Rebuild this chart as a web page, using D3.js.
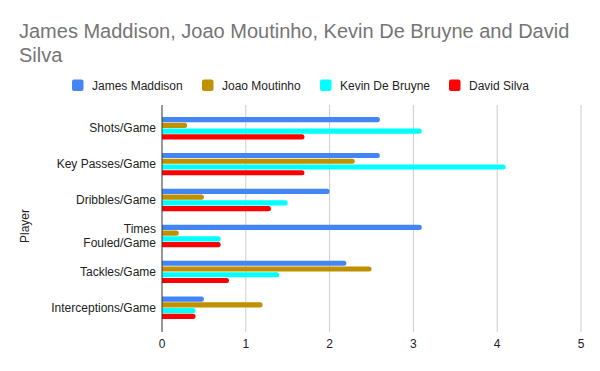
<!DOCTYPE html>
<html>
<head>
<meta charset="utf-8">
<script src="https://cdn.jsdelivr.net/npm/d3@7"></script>
<style>
  body { margin: 0; background: #fff; }
  svg { font-family: "Liberation Sans", Arial, sans-serif; }
</style>
</head>
<body>
<svg id="chart" width="600" height="371"></svg>
<script>
// data
var categories = ["Shots/Game", "Key Passes/Game", "Dribbles/Game", "Times Fouled/Game", "Tackles/Game", "Interceptions/Game"];
var players = ["James Maddison", "Joao Moutinho", "Kevin De Bruyne", "David Silva"];
var colors = ["#4285f4", "#bf9000", "#00ffff", "#ff0000"];
var maddison = [2.6, 2.6, 2.0, 3.1, 2.2, 0.5];
var moutinho = [0.3, 2.3, 0.5, 0.2, 2.5, 1.2];
var debruyne = [3.1, 4.1, 1.5, 0.7, 1.4, 0.4];
var silva = [1.7, 1.7, 1.3, 0.7, 0.8, 0.4];
var xTicks = [0, 1, 2, 3, 4, 5];

var series = [maddison, moutinho, debruyne, silva];

var svg = d3.select("#chart");
var plot = {left: 162, right: 581, top: 105, bottom: 332};

// title
var title = svg.append("text").attr("fill", "#757575").attr("font-size", "20px");
title.append("tspan").attr("x", 19).attr("y", 38).text("James Maddison, Joao Moutinho, Kevin De Bruyne and David");
title.append("tspan").attr("x", 19).attr("y", 62).text("Silva");

// legend
var legendX = [72, 202, 320, 449];
var legend = svg.append("g").selectAll("g").data(players).enter()
  .append("g").attr("transform", (d, i) => "translate(" + legendX[i] + ",79.5)");
legend.append("rect").attr("width", 11.5).attr("height", 11.5).attr("rx", 2)
  .attr("fill", (d, i) => colors[i]);
legend.append("text").attr("x", 20).attr("y", 10.5).attr("font-size", "12px").attr("fill", "#222")
  .text(d => d);

var x = d3.scaleLinear().domain([0, 5]).range([plot.left, plot.right]);
var y0 = d3.scaleBand().domain(categories).range([110.3, 325.7]);
var groupH = 23;
var y1 = d3.scaleBand().domain(d3.range(players.length)).range([0, groupH]);

// gridlines
svg.append("g").selectAll("line").data(xTicks.slice(1)).enter()
  .append("line")
  .attr("x1", d => x(d)).attr("x2", d => x(d))
  .attr("y1", plot.top).attr("y2", plot.bottom)
  .attr("stroke", "#cccccc").attr("stroke-width", 1);

// x tick labels
svg.append("g").selectAll("text").data(xTicks).enter()
  .append("text")
  .attr("x", d => x(d)).attr("y", 348)
  .attr("text-anchor", "middle").attr("font-size", "12px").attr("fill", "#222")
  .text(d => d);

// bars with rounded right end
function barPath(x0, x1, yTop, h) {
  var r = Math.min(h / 2, 2.5, Math.max(0, x1 - x0));
  return "M" + x0 + "," + yTop +
    "H" + (x1 - r) +
    "A" + r + "," + r + " 0 0 1 " + x1 + "," + (yTop + r) +
    "V" + (yTop + h - r) +
    "A" + r + "," + r + " 0 0 1 " + (x1 - r) + "," + (yTop + h) +
    "H" + x0 + "Z";
}

var groups = svg.append("g").selectAll("g").data(categories).enter()
  .append("g")
  .attr("transform", d => "translate(0," + (y0(d) + (y0.bandwidth() - groupH) / 2) + ")");

groups.selectAll("path")
  .data((c, ci) => series.map((s, si) => ({si: si, v: s[ci]})))
  .enter().append("path")
  .attr("d", d => barPath(x(0), x(d.v), y1(d.si) + 0.3, y1.bandwidth() - 0.6))
  .attr("fill", d => colors[d.si]);

// y axis line
svg.append("line")
  .attr("x1", plot.left).attr("x2", plot.left)
  .attr("y1", plot.top).attr("y2", plot.bottom)
  .attr("stroke", "#333").attr("stroke-width", 1);

// category labels (long ones wrap)
var catLabels = svg.append("g").selectAll("text").data(categories).enter()
  .append("text")
  .attr("text-anchor", "end").attr("font-size", "12px").attr("fill", "#222");
catLabels.each(function(d) {
  var t = d3.select(this);
  var cy = y0(d) + y0.bandwidth() / 2;
  var lines = d === "Times Fouled/Game" ? ["Times", "Fouled/Game"] : [d];
  lines.forEach((ln, i) => {
    t.append("tspan").attr("x", 156)
      .attr("y", cy + 4 + (i - (lines.length - 1) / 2) * 14.5)
      .text(ln);
  });
});

// y axis title
svg.append("text")
  .attr("transform", "translate(29,226) rotate(-90)")
  .attr("text-anchor", "middle").attr("font-size", "12px").attr("fill", "#222")
  .text("Player");
</script>
</body>
</html>
